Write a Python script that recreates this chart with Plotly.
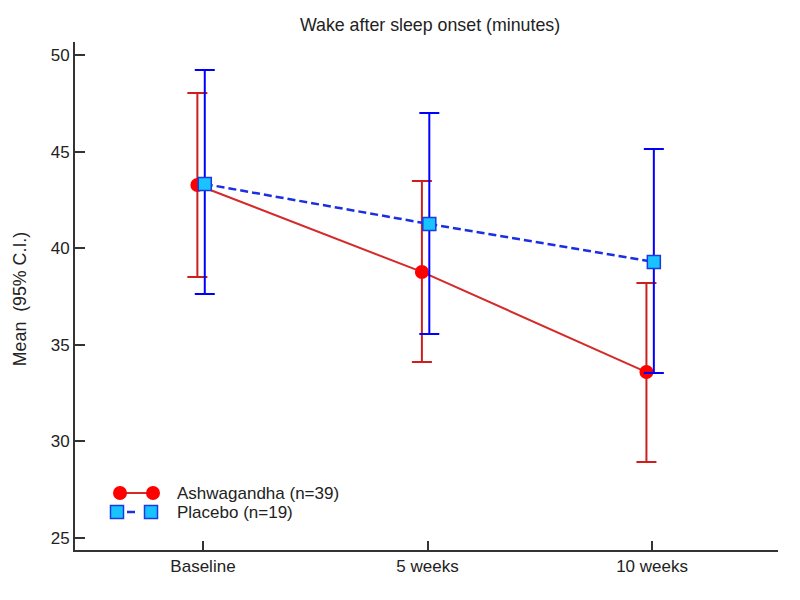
import plotly.graph_objects as go

categories = ["Baseline", "5 weeks", "10 weeks"]

ash_mean = [43.27, 38.77, 33.59]
ash_upper = [48.03, 43.48, 38.20]
ash_lower = [38.51, 34.11, 28.93]

pla_mean = [43.32, 41.25, 39.29]
pla_upper = [49.22, 47.00, 45.13]
pla_lower = [37.63, 35.56, 33.54]

y_ticks = [25, 30, 35, 40, 45, 50]

series_names = ["Ashwagandha (n=39)", "Placebo (n=19)"]

pos = list(range(len(categories)))
ash_x = [p - 0.025 for p in pos]
pla_x = [p + 0.008 for p in pos]

FONT = "Liberation Sans, Arial, sans-serif"
TXT = "#222222"
FS = 17

ash_line = dict(color="#d42a2a", width=2)
ash_marker = dict(symbol="circle", size=14, color="#ff0000", line=dict(width=0))
pla_line = dict(color="#1a2fe0", width=2.5, dash="8px,4px")
pla_marker = dict(symbol="square", size=13, color="#19c3ff", line=dict(width=1.5, color="#1a3be0"))

fig = go.Figure()

fig.add_trace(go.Scatter(
    x=ash_x, y=ash_mean, mode="lines+markers", name=series_names[0],
    line=ash_line, marker=ash_marker, showlegend=False,
    error_y=dict(type="data", symmetric=False,
                 array=[u - m for u, m in zip(ash_upper, ash_mean)],
                 arrayminus=[m - l for m, l in zip(ash_mean, ash_lower)],
                 color="#cc2020", thickness=2, width=10),
))

fig.add_trace(go.Scatter(
    x=pla_x, y=pla_mean, mode="lines+markers", name=series_names[1],
    line=pla_line, marker=pla_marker, showlegend=False,
    error_y=dict(type="data", symmetric=False,
                 array=[u - m for u, m in zip(pla_upper, pla_mean)],
                 arrayminus=[m - l for m, l in zip(pla_mean, pla_lower)],
                 color="#0000ff", thickness=2, width=10),
))

# custom legend samples (pixel-based overlay axes)
fig.add_trace(go.Scatter(
    x=[45, 78], y=[57, 57], mode="lines+markers", xaxis="x2", yaxis="y2",
    line=ash_line, marker=ash_marker, showlegend=False, hoverinfo="skip",
))
fig.add_trace(go.Scatter(
    x=[42, 76], y=[38, 38], mode="lines+markers", xaxis="x2", yaxis="y2",
    line=dict(color="#1a2fe0", width=2.5, dash="0px,10px,8px,40px"),
    marker=pla_marker, showlegend=False, hoverinfo="skip",
))
for yy, name in zip([57, 38], series_names):
    fig.add_annotation(x=100, y=yy, xref="x2", yref="y2", text=name, showarrow=False,
                       xanchor="left", yanchor="middle", font=dict(size=FS, color=TXT, family=FONT))

fig.add_annotation(x=-0.078, y=0.494, xref="paper", yref="paper", text="Mean  (95% C.I.)",
                   textangle=-90, showarrow=False, xanchor="center", yanchor="middle",
                   font=dict(size=17.8, color=TXT, family=FONT))

fig.update_layout(
    width=800, height=600,
    margin=dict(l=67, r=30, t=34, b=58, autoexpand=False),
    paper_bgcolor="white", plot_bgcolor="white",
    font=dict(family=FONT, size=FS, color=TXT),
    title=dict(text="Wake after sleep onset (minutes)", x=0.5275, xanchor="center",
               y=0.9717, yanchor="middle", font=dict(size=17.8, color=TXT)),
    showlegend=False,
    xaxis=dict(
        range=[-0.570, 2.561], tickmode="array", tickvals=pos, ticktext=categories,
        showline=True, linecolor="#333333", linewidth=2, showgrid=False, zeroline=False,
        ticks="inside", ticklen=9, tickwidth=2, tickcolor="#333333",
        tickfont=dict(size=FS, color=TXT), automargin=False,
    ),
    yaxis=dict(
        range=[24.38, 50.67], tickmode="array", tickvals=y_ticks,
        showline=True, linecolor="#333333", linewidth=2, showgrid=False, zeroline=False,
        ticks="inside", ticklen=10, tickwidth=2, tickcolor="#333333",
        tickfont=dict(size=FS, color=TXT), automargin=False,
    ),
    xaxis2=dict(overlaying="x", range=[0, 703], visible=False, fixedrange=True),
    yaxis2=dict(overlaying="y", range=[0, 508], visible=False, fixedrange=True),
)

fig.write_html("out.html")
